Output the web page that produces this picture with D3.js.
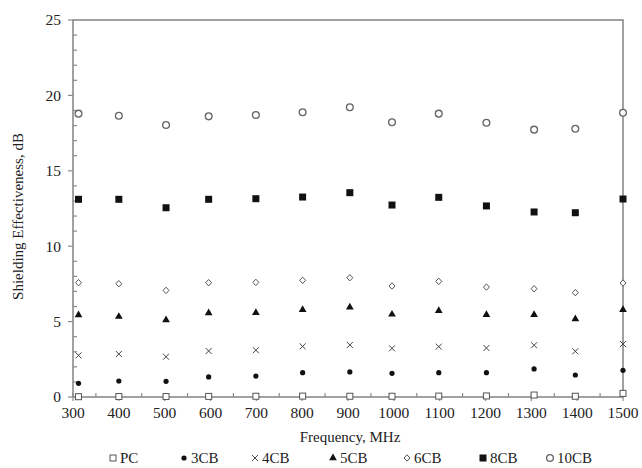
<!DOCTYPE html>
<html>
<head>
<meta charset="utf-8">
<script src="https://cdn.jsdelivr.net/npm/d3@7"></script>
<style>
  html, body { margin: 0; padding: 0; background: #fff; }
  svg { display: block; }
  text { font-family: "Liberation Serif", "DejaVu Serif", serif; fill: #222; }
</style>
</head>
<body>
<svg id="chart" width="642" height="468"></svg>
<script>
// Measurement frequencies (MHz)
const frequency = [312, 400, 503, 596, 699, 801, 904, 996, 1098, 1202, 1306, 1396, 1500];

// Shielding effectiveness (dB) per sample
const PC    = [0.02, 0.03, 0.03, 0.04, 0.05, 0.06, 0.05, 0.05, 0.06, 0.07, 0.13, 0.05, 0.24];
const CB3   = [0.91, 1.06, 1.04, 1.33, 1.39, 1.61, 1.66, 1.57, 1.61, 1.61, 1.86, 1.46, 1.77];
const CB4   = [2.76, 2.85, 2.67, 3.05, 3.10, 3.36, 3.45, 3.23, 3.34, 3.25, 3.43, 3.03, 3.51];
const CB5   = [5.44, 5.33, 5.10, 5.57, 5.59, 5.79, 5.95, 5.48, 5.72, 5.46, 5.46, 5.17, 5.79];
const CB6   = [7.58, 7.51, 7.07, 7.58, 7.60, 7.74, 7.91, 7.36, 7.67, 7.29, 7.18, 6.92, 7.56];
const CB8   = [13.11, 13.11, 12.55, 13.11, 13.15, 13.26, 13.55, 12.73, 13.24, 12.67, 12.27, 12.22, 13.13];
const CB10  = [18.79, 18.65, 18.04, 18.61, 18.70, 18.88, 19.21, 18.22, 18.79, 18.19, 17.73, 17.79, 18.85];

const seriesNames = ["PC", "3CB", "4CB", "5CB", "6CB", "8CB", "10CB"];
const seriesValues = [PC, CB3, CB4, CB5, CB6, CB8, CB10];

const xTicks = [300, 400, 500, 600, 700, 800, 900, 1000, 1100, 1200, 1300, 1400, 1500];
const yTicks = [0, 5, 10, 15, 20, 25];

const svg = d3.select("#chart");
const plotL = 73, plotR = 623, plotT = 20, plotB = 397;

const x = d3.scaleLinear().domain([300, 1500]).range([plotL, plotR]);
const y = d3.scaleLinear().domain([0, 25]).range([plotB, plotT]);

const axisColor = "#8a8a8a";

// Frame: left/bottom axes plus top/right borders
const g = svg.append("g");
g.append("rect")
  .attr("x", plotL).attr("y", plotT)
  .attr("width", plotR - plotL).attr("height", plotB - plotT)
  .attr("fill", "none").attr("stroke", axisColor).attr("stroke-width", 1.6);

// Y minor ticks (inside) and major ticks (outside)
d3.range(0, 25.001, 1).forEach(v => {
  const major = v % 5 === 0;
  g.append("line")
    .attr("x1", major ? plotL - 5 : plotL).attr("x2", major ? plotL : plotL + 4)
    .attr("y1", y(v)).attr("y2", y(v))
    .attr("stroke", axisColor).attr("stroke-width", 1.2);
});
// X minor ticks (inside) and major ticks (crossing)
d3.range(300, 1500.001, 50).forEach(v => {
  const major = v % 100 === 0;
  g.append("line")
    .attr("x1", x(v)).attr("x2", x(v))
    .attr("y1", major ? plotB + 4 : plotB).attr("y2", plotB - 4)
    .attr("stroke", axisColor).attr("stroke-width", 1.2);
});

// Tick labels
g.selectAll(".yl").data(yTicks).join("text")
  .attr("x", plotL - 12).attr("y", d => y(d)).attr("dy", "0.35em")
  .attr("text-anchor", "end").attr("font-size", 15.5).text(d => d);
g.selectAll(".xl").data(xTicks).join("text")
  .attr("x", d => x(d)).attr("y", 418)
  .attr("text-anchor", "middle").attr("font-size", 15.5).text(d => d);

// Axis titles
svg.append("text").attr("x", (plotL + plotR) / 2 + 2).attr("y", 442)
  .attr("text-anchor", "middle").attr("font-size", 15).text("Frequency, MHz");
svg.append("text")
  .attr("transform", `translate(23,${(plotT + plotB) / 2 + 8}) rotate(-90)`)
  .attr("text-anchor", "middle").attr("font-size", 15).text("Shielding Effectiveness, dB");

// Marker drawing helpers
const markerStroke = "#555";
function drawMarker(sel, name) {
  switch (name) {
    case "PC":
      sel.append("rect").attr("x", -3).attr("y", -3).attr("width", 6).attr("height", 6)
        .attr("fill", "#fff").attr("stroke", markerStroke).attr("stroke-width", 1);
      break;
    case "3CB":
      sel.append("circle").attr("r", 2.6).attr("fill", "#111");
      break;
    case "4CB":
      sel.append("path").attr("d", "M-3,-3L3,3M-3,3L3,-3")
        .attr("stroke", "#444").attr("stroke-width", 1).attr("fill", "none");
      break;
    case "5CB":
      sel.append("path").attr("d", d3.symbol(d3.symbolTriangle, 26)())
        .attr("fill", "#111");
      break;
    case "6CB":
      sel.append("path").attr("d", "M0,-3.2L3,0L0,3.2L-3,0Z")
        .attr("fill", "#fff").attr("stroke", markerStroke).attr("stroke-width", 1);
      break;
    case "8CB":
      sel.append("rect").attr("x", -3.5).attr("y", -3.5).attr("width", 7).attr("height", 7)
        .attr("fill", "#111");
      break;
    case "10CB":
      sel.append("circle").attr("r", 3.4)
        .attr("fill", "#fff").attr("stroke", "#666").attr("stroke-width", 1.3);
      break;
  }
}

// Points
seriesNames.forEach((name, si) => {
  const vals = seriesValues[si];
  frequency.forEach((f, i) => {
    const m = svg.append("g").attr("transform", `translate(${x(f)},${y(vals[i])})`);
    drawMarker(m, name);
  });
});

// Legend
const legendX = [113, 184, 255, 333, 407, 483, 550];
seriesNames.forEach((name, i) => {
  const lg = svg.append("g").attr("transform", `translate(${legendX[i]},458)`);
  drawMarker(lg, name);
  lg.append("text").attr("x", 7).attr("y", 5).attr("font-size", 15).text(name);
});
</script>
</body>
</html>
